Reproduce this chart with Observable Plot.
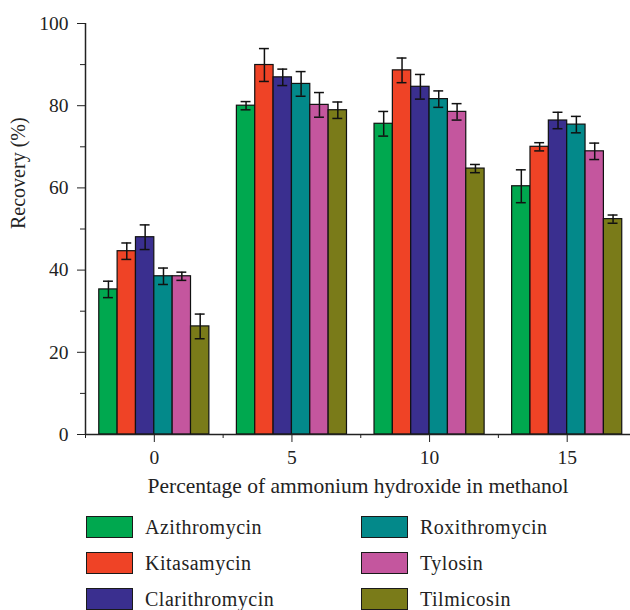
<!DOCTYPE html>
<html><head><meta charset="utf-8">
<script src="https://cdn.jsdelivr.net/npm/d3@7"></script>
<script src="https://cdn.jsdelivr.net/npm/@observablehq/plot@0.6"></script>
<style>
body{margin:0;background:#fff;font-family:"Liberation Serif",serif;color:#222;}
#chart svg{display:block;overflow:visible}
#legend{position:relative;height:105px;width:630px;margin-top:0}
.item{position:absolute;display:flex;align-items:center;font-size:20px;letter-spacing:0.5px;height:24px;line-height:24px}
.sw{width:45px;height:20px;border:1.5px solid #1a1a1a;margin-right:12px}
</style></head><body>
<div id="chart"></div>
<div id="legend"></div>
<script>
const percentages = [0, 5, 10, 15];
const compounds = ["Azithromycin","Kitasamycin","Clarithromycin","Roxithromycin","Tylosin","Tilmicosin"];
const colors = ["#00a84f","#ef4326","#3a2f8f","#03898a","#c4569e","#7a7b19"];
// recovery (%) per compound at 0,5,10,15 %
const azithromycin   = [35.3, 80.0, 75.6, 60.4];
const kitasamycin    = [44.6, 89.9, 88.6, 70.0];
const clarithromycin = [48.0, 86.9, 84.6, 76.4];
const roxithromycin  = [38.5, 85.3, 81.6, 75.4];
const tylosin        = [38.5, 80.2, 78.5, 68.9];
const tilmicosin     = [26.3, 78.9, 64.7, 52.4];
// error (±)
const errAzithromycin   = [2.0, 1.0, 3.0, 4.0];
const errKitasamycin    = [2.0, 4.0, 3.0, 1.0];
const errClarithromycin = [3.0, 2.0, 3.0, 2.0];
const errRoxithromycin  = [2.0, 3.0, 2.0, 2.0];
const errTylosin        = [1.0, 3.0, 2.0, 2.0];
const errTilmicosin     = [3.0, 2.0, 1.0, 1.0];
const yMajorTicks = [0, 20, 40, 60, 80, 100];
const yMinorTicks = [10, 30, 50, 70, 90];
const xMajorTicks = [0, 5, 10, 15];
const xMinorTicks = [-2.5, 2.5, 7.5, 12.5];
const xTitle = "Percentage of ammonium hydroxide in methanol";
const yTitle = "Recovery (%)";

const values = [azithromycin, kitasamycin, clarithromycin, roxithromycin, tylosin, tilmicosin];
const errors = [errAzithromycin, errKitasamycin, errClarithromycin, errRoxithromycin, errTylosin, errTilmicosin];
const rows = [];
percentages.forEach((p, j) => compounds.forEach((c, i) => {
  rows.push({pct: p, i, compound: c, value: values[i][j], err: errors[i][j],
    x1: p - 2 + i * 2/3, x2: p - 2 + (i + 1) * 2/3, xc: p - 2 + (i + 0.5) * 2/3});
}));

const font = "Liberation Serif";
const chart = Plot.plot({
  width: 630, height: 505,
  marginLeft: 85, marginRight: 0, marginTop: 23, marginBottom: 71,
  style: {fontFamily: font, fontSize: "19px", color: "#222", background: "#fff"},
  x: {domain: [-2.5, 17.3]},
  y: {domain: [0, 100]},
  color: {domain: compounds, range: colors},
  marks: [
    Plot.rectY(rows, {x1: "x1", x2: "x2", y1: 0, y2: "value", fill: "compound", stroke: "#111", strokeWidth: 1.2}),
    Plot.ruleX(rows, {x: "xc", y1: d => d.value - d.err, y2: d => d.value + d.err, stroke: "#111", strokeWidth: 1.5}),
    Plot.ruleY(rows, {y: d => d.value + d.err, x1: d => d.xc - 0.18, x2: d => d.xc + 0.18, stroke: "#111", strokeWidth: 1.5}),
    Plot.ruleY(rows, {y: d => d.value - d.err, x1: d => d.xc - 0.18, x2: d => d.xc + 0.18, stroke: "#111", strokeWidth: 1.5}),
    Plot.ruleX([-2.5], {y1: 0, y2: 100, stroke: "#222", strokeWidth: 1.5}),
    Plot.ruleY([0], {x1: -2.5, x2: 17.3, stroke: "#222", strokeWidth: 1.5}),
    Plot.axisY({ticks: yMajorTicks, tickSize: 8, tickPadding: 9, fontSize: 19.5, tickFormat: d => String(d), label: null}),
    Plot.axisY({ticks: yMinorTicks, tickSize: 5, tickFormat: () => "", label: null}),
    Plot.axisX({ticks: xMajorTicks, tickSize: 8, tickPadding: 8, fontSize: 19.5, tickFormat: d => String(d), label: null}),
    Plot.axisX({ticks: xMinorTicks, tickSize: 4, tickFormat: () => "", label: null}),
    Plot.text([xTitle], {frameAnchor: "bottom", dy: 52, fontSize: 21.5, fill: "#222", lineAnchor: "middle"}),
    Plot.text([yTitle], {frameAnchor: "left", dx: -67, rotate: -90, fontSize: 20, fill: "#222", lineAnchor: "middle"})
  ]
});
document.getElementById("chart").appendChild(chart);

const legend = document.getElementById("legend");
compounds.forEach((c, i) => {
  const col = Math.floor(i / 3), row = i % 3;
  const el = document.createElement("div");
  el.className = "item";
  el.style.left = (col === 0 ? 86 : 361) + "px";
  el.style.top = (10 + row * 36) + "px";
  const sw = document.createElement("div");
  sw.className = "sw";
  sw.style.background = colors[i];
  el.appendChild(sw);
  const t = document.createElement("span");
  t.textContent = c;
  el.appendChild(t);
  legend.appendChild(el);
});
</script></body></html>
